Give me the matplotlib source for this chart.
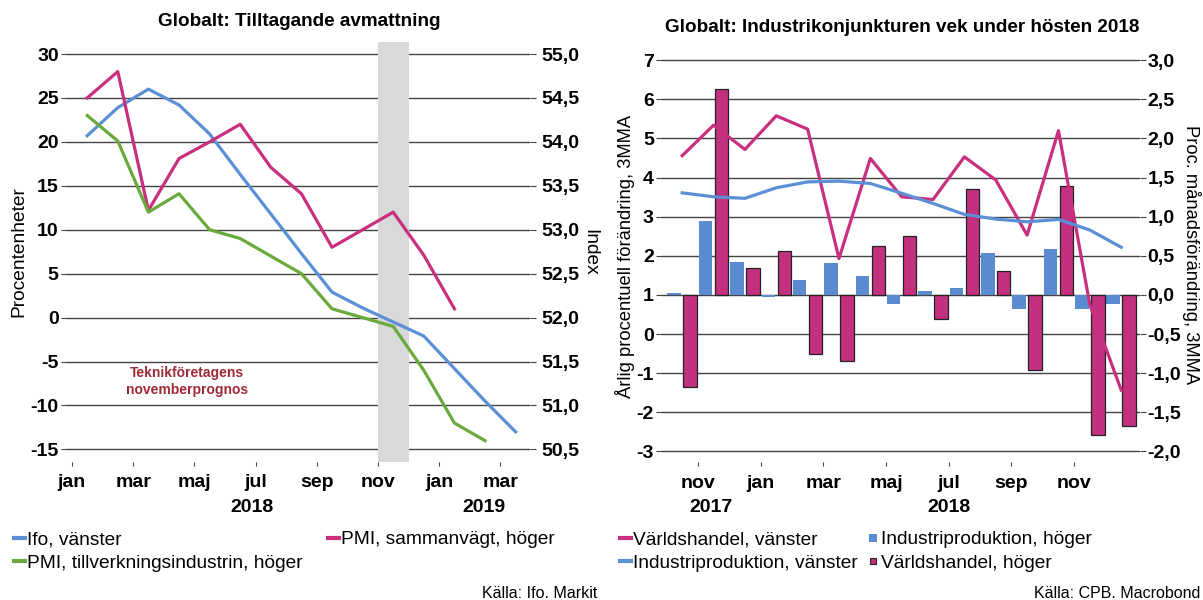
import numpy as np
import matplotlib
matplotlib.use('Agg')
import matplotlib.pyplot as plt
from matplotlib.lines import Line2D
from matplotlib import transforms

plt.rcParams['font.family'] = ['Liberation Sans', 'DejaVu Sans']
plt.rcParams['axes.unicode_minus'] = False

# left chart: monthly, jan 2018 - mar 2019
ifo = [20.7, 23.9, 26.0, 24.2, 20.9, 16.3, 11.8, 7.3, 2.9, 1.1, -0.5, -2.1, -5.8, -9.5, -13.0]
pmi_sammanvagt = [54.5, 54.8, 53.22, 53.81, 54.0, 54.2, 53.71, 53.41, 52.8, 53.0, 53.2, 52.71, 52.1]
pmi_tillverkning = [54.3, 54.01, 53.2, 53.41, 53.0, 52.9, 52.7, 52.5, 52.1, 52.0, 51.9, 51.4, 50.8, 50.6]
left_ticklabels = ['jan', 'mar', 'maj', 'jul', 'sep', 'nov', 'jan', 'mar']
left_years = ['2018', '2019']

# right chart: monthly, okt 2017 - dec 2018
varldshandel_line = [4.56, 5.34, 4.72, 5.58, 5.24, 1.93, 4.49, 3.51, 3.44, 4.53, 3.94, 2.53, 5.2, 0.75, -1.43]
industriprod_line = [3.61, 3.51, 3.47, 3.74, 3.89, 3.91, 3.85, 3.6, 3.34, 3.06, 2.94, 2.87, 2.93, 2.66, 2.22]
industriprod_bars = [0.03, 0.94, 0.42, -0.02, 0.19, 0.41, 0.24, -0.12, 0.055, 0.09, 0.54, -0.18, 0.59, -0.18, -0.12]
varldshandel_bars = [-1.18, 2.63, 0.35, 0.56, -0.76, -0.84, 0.63, 0.75, -0.31, 1.36, 0.31, -0.96, 1.39, -1.79, -1.68]
right_ticklabels = ['nov', 'jan', 'mar', 'maj', 'jul', 'sep', 'nov']
right_years = ['2017', '2018']

BLUE = '#5b8fd6'
PINK = '#c8307f'
GREEN = '#6aaa3c'
GRID = '#444444'
W, H = 1203, 600


def comma(v, pos=None):
    return f'{v:.1f}'.replace('.', ',')


def clean(ax):
    for s in ax.spines.values():
        s.set_visible(False)


fig = plt.figure(figsize=(W / 100, H / 100), dpi=100)

# ---------------- left chart ----------------
ax = fig.add_axes([67 / W, (H - 461.7) / H, 463 / W, 420 / H])
ax2 = ax.twinx()
clean(ax)
clean(ax2)

ax.set_xlim(-0.66, 14.47)
ax.set_ylim(-16.4, 31.4)
ax2.set_ylim(52 + 0.1 * -16.4, 52 + 0.1 * 31.4)

ax.set_yticks(np.arange(-15, 31, 5))
ax2.set_yticks(np.arange(50.5, 55.01, 0.5))
ax2.yaxis.set_major_formatter(comma)
ax.grid(axis='y', color=GRID, lw=1.0)
ax.set_axisbelow(True)
ax.axvspan(9.5, 10.5, color='#d9d9d9', lw=0, zorder=1.5)

ax.plot(np.arange(len(ifo)), ifo, color=BLUE, lw=2.3, zorder=3)
ax2.plot(np.arange(len(pmi_sammanvagt)), pmi_sammanvagt, color=PINK, lw=2.3)
ax2.plot(np.arange(len(pmi_tillverkning)), pmi_tillverkning, color=GREEN, lw=2.3)

ax.set_xticks(np.arange(-0.5, 14.5, 2), left_ticklabels, fontsize=14, fontweight='bold')
ax.tick_params(axis='x', length=3, color=GRID, pad=6)
ax.tick_params(axis='y', length=4, color=GRID, pad=2, labelsize=14)
ax2.tick_params(axis='y', length=4, color=GRID, pad=4, labelsize=14)
for lab in ax.get_yticklabels() + ax2.get_yticklabels():
    lab.set_fontweight('bold')

trans = transforms.blended_transform_factory(ax.transData, fig.transFigure)
for xpos, yr in zip([5.4, 12.95], left_years):
    ax.text(xpos, (H - 507) / H, yr, transform=trans, ha='center', va='center',
            fontsize=14, fontweight='bold')

ax.text(3.27, -7.3, 'Teknikföretagens\nnovemberprognos', color='#9e2a36', fontsize=10,
        fontweight='bold', ha='center', va='center', linespacing=1.3)

fig.text(299 / W, (H - 22) / H, 'Globalt: Tilltagande avmattning', ha='center', va='center',
         fontsize=13.6, fontweight='bold')
fig.text(19 / W, (H - 252) / H, 'Procentenheter', rotation=90, ha='center', va='center', fontsize=13.8)
fig.text(590 / W, (H - 252) / H, 'Index', rotation=270, ha='center', va='center', fontsize=13.8)

h_left = [Line2D([], [], color=BLUE, lw=3), Line2D([], [], color=GREEN, lw=3),
          Line2D([], [], color=PINK, lw=3)]
l_left = ['Ifo, vänster', 'PMI, tillverkningsindustrin, höger', 'PMI, sammanvägt, höger']
fig.legend(h_left, l_left, loc='upper left', bbox_to_anchor=(14 / W, (H - 531) / H), ncol=2,
           frameon=False, fontsize=13.8, handlelength=0.55, handletextpad=0.15,
           columnspacing=1.3, labelspacing=0.3, borderaxespad=0, borderpad=0)
fig.text(597 / W, (H - 593) / H, 'Källa: Ifo. Markit', ha='right', va='center', fontsize=11.5)

# ---------------- right chart ----------------
axL = fig.add_axes([661.5 / W, (H - 462) / H, 478.5 / W, 417 / H])
axR = axL.twinx()
clean(axL)
clean(axR)
axL.set_zorder(axR.get_zorder() + 1)
axL.patch.set_visible(False)

axL.set_xlim(-0.66, 14.6)
axL.set_ylim(-3.27, 7.39)
axR.set_ylim(0.5 * -3.27 - 0.5, 0.5 * 7.39 - 0.5)
axL.set_yticks(np.arange(-3, 8, 1))
axR.set_yticks(np.arange(-2.0, 3.01, 0.5))
axR.yaxis.set_major_formatter(comma)
axR.grid(axis='y', color=GRID, lw=1.0)
axR.set_axisbelow(True)

g = np.arange(len(industriprod_bars))
axR.bar(g - 0.255, industriprod_bars, width=0.43, color='#5a8bd0', lw=0, zorder=2)
axR.bar(g + 0.255, varldshandel_bars, width=0.43, color='#c2307f', edgecolor='#222222',
        lw=0.9, zorder=2)
axL.plot(g, varldshandel_line, color=PINK, lw=2.3)
axL.plot(g, industriprod_line, color=BLUE, lw=2.3)

axL.set_xticks(np.arange(0.5, 13, 2), right_ticklabels, fontsize=14, fontweight='bold')
axL.tick_params(axis='x', length=3, color=GRID, pad=6)
axL.tick_params(axis='y', length=4, color=GRID, pad=1.5, labelsize=14)
axR.tick_params(axis='y', length=4, color=GRID, pad=1.5, labelsize=14)
for lab in axL.get_yticklabels() + axR.get_yticklabels():
    lab.set_fontweight('bold')

transR = transforms.blended_transform_factory(axL.transData, fig.transFigure)
for xpos, yr in zip([0.92, 8.5], right_years):
    axL.text(xpos, (H - 507) / H, yr, transform=transR, ha='center', va='center',
             fontsize=14, fontweight='bold')

fig.text(902 / W, (H - 28) / H, 'Globalt: Industrikonjunkturen vek under hösten 2018',
         ha='center', va='center', fontsize=13.6, fontweight='bold')
fig.text(625 / W, (H - 256) / H, 'Årlig procentuell förändring, 3MMA', rotation=90,
         ha='center', va='center', fontsize=13.2)
fig.text(1192 / W, (H - 255) / H, 'Proc. månadsförändring, 3MMA', rotation=270,
         ha='center', va='center', fontsize=13.2)

h_right = [Line2D([], [], color=PINK, lw=3), Line2D([], [], color=BLUE, lw=3),
           Line2D([], [], color='#5a8bd0', marker='s', ls='none', markersize=5.5, markeredgewidth=0),
           Line2D([], [], color='#c2307f', marker='s', ls='none', markersize=4,
                  markeredgecolor='#222222', markeredgewidth=0.8)]
l_right = ['Världshandel, vänster', 'Industriproduktion, vänster',
           'Industriproduktion, höger', 'Världshandel, höger']
fig.legend(h_right, l_right, loc='upper left', bbox_to_anchor=(620 / W, (H - 531) / H), ncol=2,
           frameon=False, fontsize=13.8, handlelength=0.55, handletextpad=0.15,
           columnspacing=0.5, labelspacing=0.3, borderaxespad=0, borderpad=0)
fig.text(1200 / W, (H - 593) / H, 'Källa: CPB. Macrobond', ha='right', va='center', fontsize=11.5)

fig.savefig('out.png', dpi=100)
